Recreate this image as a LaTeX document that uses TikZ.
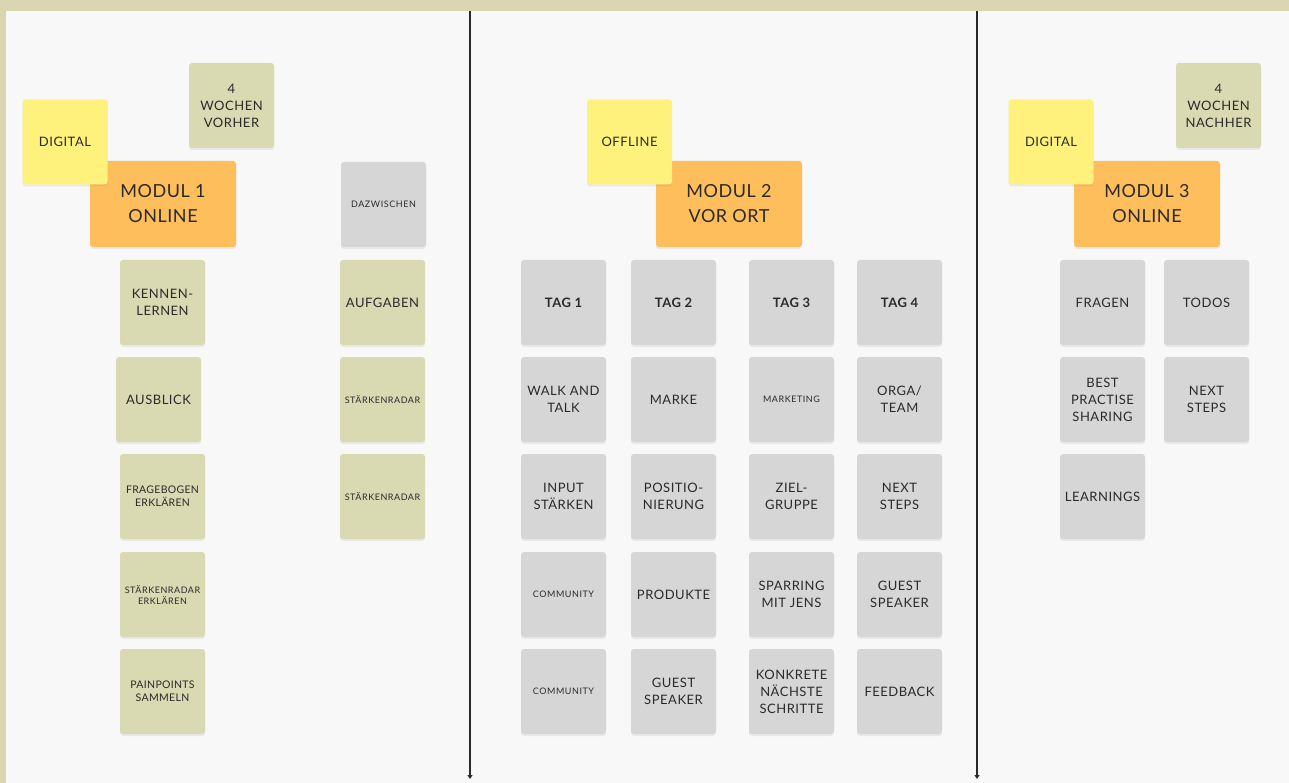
\documentclass[tikz,border=0pt]{standalone}
\usepackage{fontspec}
\setmainfont{Lato}
\usepackage{tikz}
\usetikzlibrary{arrows.meta,shadows}

\definecolor{rahmen}{HTML}{D9D6B1}
\definecolor{leinwand}{HTML}{F8F8F8}
\definecolor{gelb}{HTML}{FFF27C}
\definecolor{oliv}{HTML}{D9D9B2}
\definecolor{orange}{HTML}{FFBE5C}
\definecolor{grau}{HTML}{D6D6D6}
\definecolor{schrift}{HTML}{2A2A2A}

\newcommand{\normaltext}{\fontsize{13}{17}\selectfont\addfontfeatures{LetterSpace=4}}
\newcommand{\kleintext}{\fontsize{10.5}{13}\selectfont\addfontfeatures{LetterSpace=3}}
\newcommand{\winztext}{\fontsize{9}{11}\selectfont\addfontfeatures{LetterSpace=6}}

\begin{document}
\begin{tikzpicture}[x=1pt,y=-1pt,
    zettel/.style={rounded corners=3pt, minimum width=85pt, minimum height=85pt,
      inner sep=1pt, align=center, text=schrift, font=\normaltext,
      drop shadow={shadow xshift=0pt, shadow yshift=-2pt, opacity=0.12}},
    gelbzettel/.style={zettel, fill=gelb},
    olivzettel/.style={zettel, fill=oliv},
    grauzettel/.style={zettel, fill=grau},
    modul/.style={zettel, fill=orange, minimum width=146pt, minimum height=86pt,
      font=\fontsize{18}{25}\selectfont\addfontfeatures{LetterSpace=3}},
    trenner/.style={draw=schrift, line width=1.1pt, -{Triangle[width=5pt,length=4pt]}}]

  % Hintergrund und Arbeitsflaeche
  \fill[rahmen] (0,0) rectangle (1289,783);
  \fill[leinwand] (6,11) rectangle (1289,783);

  % Trennlinien zwischen den Modulen
  \coordinate (trennAoben) at (470,11);
  \coordinate (trennAunten) at (470,779);
  \coordinate (trennBoben) at (977,11);
  \coordinate (trennBunten) at (977,779);
  \draw[trenner] (trennAoben) -- (trennAunten);
  \draw[trenner] (trennBoben) -- (trennBunten);

  % Modul 1
  \node[modul] (modA) at (163,204) {MODUL 1\\ONLINE};
  \node[gelbzettel] (digA) at (65,142) {DIGITAL};
  \node[olivzettel] (vorher) at (231.5,105.5) {4\\WOCHEN\\VORHER};
  \node[olivzettel] (kennen) at (162.5,302.5) {KENNEN-\\LERNEN};
  \node[olivzettel] (ausblick) at (158.5,399.5) {AUSBLICK};
  \node[olivzettel, font=\kleintext] (fragebogen) at (162.5,496.5) {FRAGEBOGEN\\ERKLÄREN};
  \node[olivzettel, font=\winztext] (radarerkl) at (162.5,594.5) {STÄRKENRADAR\\ERKLÄREN};
  \node[olivzettel, font=\kleintext] (painpoints) at (162.5,691.5) {PAINPOINTS\\SAMMELN};

  % Zwischen Modul 1 und 2
  \node[grauzettel, font=\winztext] (dazwischen) at (383.5,204.5) {DAZWISCHEN};
  \node[olivzettel] (aufgaben) at (382.5,302.5) {AUFGABEN};
  \node[olivzettel, font=\winztext] (radarA) at (382.5,399.5) {STÄRKENRADAR};
  \node[olivzettel, font=\winztext] (radarB) at (382.5,496.5) {STÄRKENRADAR};

  % Modul 2
  \node[modul] (modB) at (729,204) {MODUL 2\\VOR ORT};
  \node[gelbzettel] (offline) at (629.5,142) {OFFLINE};

  % Tag 1
  \node[grauzettel, font=\normaltext\bfseries] (tagA) at (563.5,302.5) {TAG 1};
  \node[grauzettel] (walk) at (563.5,399.5) {WALK AND\\TALK};
  \node[grauzettel] (input) at (563.5,496.5) {INPUT\\STÄRKEN};
  \node[grauzettel, font=\winztext] (commA) at (563.5,594.5) {COMMUNITY};
  \node[grauzettel, font=\winztext] (commB) at (563.5,691.5) {COMMUNITY};

  % Tag 2
  \node[grauzettel, font=\normaltext\bfseries] (tagB) at (673.5,302.5) {TAG 2};
  \node[grauzettel] (marke) at (673.5,399.5) {MARKE};
  \node[grauzettel] (positio) at (673.5,496.5) {POSITIO-\\NIERUNG};
  \node[grauzettel] (produkte) at (673.5,594.5) {PRODUKTE};
  \node[grauzettel] (guestA) at (673.5,691.5) {GUEST\\SPEAKER};

  % Tag 3
  \node[grauzettel, font=\normaltext\bfseries] (tagC) at (791.5,302.5) {TAG 3};
  \node[grauzettel, font=\winztext] (marketing) at (791.5,399.5) {MARKETING};
  \node[grauzettel] (ziel) at (791.5,496.5) {ZIEL-\\GRUPPE};
  \node[grauzettel] (sparring) at (791.5,594.5) {SPARRING\\MIT JENS};
  \node[grauzettel] (konkret) at (791.5,691.5) {KONKRETE\\NÄCHSTE\\SCHRITTE};

  % Tag 4
  \node[grauzettel, font=\normaltext\bfseries] (tagD) at (899.5,302.5) {TAG 4};
  \node[grauzettel] (orga) at (899.5,399.5) {ORGA/\\TEAM};
  \node[grauzettel] (nextA) at (899.5,496.5) {NEXT\\STEPS};
  \node[grauzettel] (guestB) at (899.5,594.5) {GUEST\\SPEAKER};
  \node[grauzettel] (feedback) at (899.5,691.5) {FEEDBACK};

  % Modul 3
  \node[modul] (modC) at (1147,204) {MODUL 3\\ONLINE};
  \node[gelbzettel] (digC) at (1051,142) {DIGITAL};
  \node[olivzettel] (nachher) at (1218.5,105.5) {4\\WOCHEN\\NACHHER};
  \node[grauzettel] (fragen) at (1102.5,302.5) {FRAGEN};
  \node[grauzettel] (todos) at (1206.5,302.5) {TODOS};
  \node[grauzettel] (best) at (1102.5,399.5) {BEST\\PRACTISE\\SHARING};
  \node[grauzettel] (nextB) at (1206.5,399.5) {NEXT\\STEPS};
  \node[grauzettel] (learnings) at (1102.5,496.5) {LEARNINGS};

  \useasboundingbox (0,0) rectangle (1289,783);
\end{tikzpicture}
\end{document}
